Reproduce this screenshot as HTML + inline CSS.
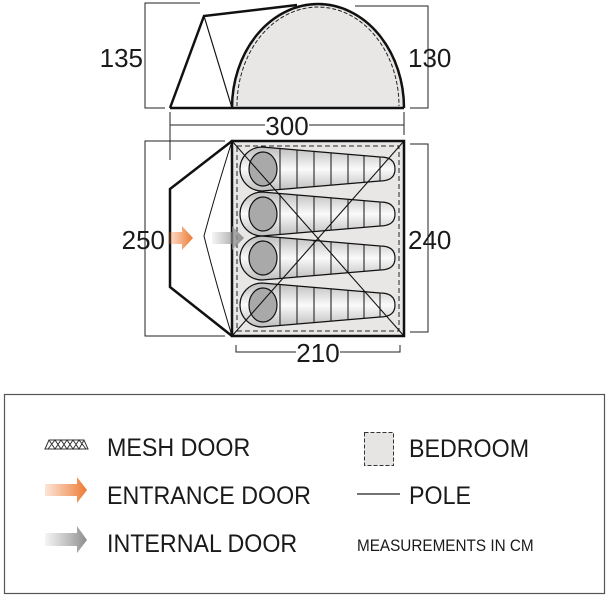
<!DOCTYPE html>
<html><head><style>
html,body{margin:0;padding:0;background:#fff;}
svg{display:block;}
text{font-family:"Liberation Sans",sans-serif;fill:#1a1a1a;}
</style></head><body>
<svg width="616" height="600" viewBox="0 0 616 600" xmlns="http://www.w3.org/2000/svg">
<defs>
<linearGradient id="bg" x1="0" y1="0" x2="0" y2="1">
<stop offset="0" stop-color="#bdbdbd"/><stop offset="0.5" stop-color="#fafafa"/><stop offset="1" stop-color="#bdbdbd"/>
</linearGradient>
<linearGradient id="og" x1="0" x2="1"><stop offset="0" stop-color="#f07f3a" stop-opacity="0.2"/><stop offset="1" stop-color="#ec7a33"/></linearGradient>
<linearGradient id="gg" x1="0" x2="1"><stop offset="0" stop-color="#999" stop-opacity="0.1"/><stop offset="1" stop-color="#8d8d8d"/></linearGradient>
<clipPath id="bc"><path d="M262,-22 L380,-12 Q395,-12 395,0 Q395,12 380,12 L262,22 A22,22 0 0 1 262,-22 Z"/></clipPath>
<g id="bag">
<path d="M262,-22 L380,-12 Q395,-12 395,0 Q395,12 380,12 L262,22 A22,22 0 0 1 262,-22 Z" fill="url(#bg)" stroke="#111" stroke-width="1.2"/>
<g clip-path="url(#bc)" stroke="#111" stroke-width="1">
<line x1="280" y1="-30" x2="280" y2="30"/><line x1="297" y1="-30" x2="297" y2="30"/><line x1="314" y1="-30" x2="314" y2="30"/><line x1="331" y1="-30" x2="331" y2="30"/><line x1="348" y1="-30" x2="348" y2="30"/><line x1="364" y1="-30" x2="364" y2="30"/><line x1="380" y1="-30" x2="380" y2="30"/>
</g>
<ellipse cx="263" cy="0" rx="14" ry="17" fill="#a9a9a9" stroke="#111" stroke-width="1.2"/>
</g>
</defs>

<g stroke="#222" stroke-width="1" fill="none">
<polyline points="200,3 145,3 145,108 165,108"/>
<polyline points="355,6 428,6 428,108 410,108"/>
<line x1="170" y1="112" x2="170" y2="160"/>
<line x1="404" y1="112" x2="404" y2="135"/>
<line x1="170" y1="125" x2="265" y2="125"/><line x1="309" y1="125" x2="404" y2="125"/>
</g>
<path d="M232,108 A86,104 0 0 1 404,108 Z" fill="#e9e7e6" stroke="none"/>
<path d="M237,106 A81,99 0 0 1 399,106" fill="none" stroke="#222" stroke-width="1" stroke-dasharray="4,2"/>
<path d="M232,108 A86,104 0 0 1 404,108" fill="none" stroke="#111" stroke-width="2.5"/>
<g stroke="#111" fill="none">
<polyline points="170,108 204,16 297,5" stroke-width="2.5"/>
<line x1="204" y1="16" x2="232" y2="108" stroke-width="1.2"/>
<line x1="170" y1="108" x2="404" y2="108" stroke-width="2.5"/>
</g>
<text x="143" y="67" font-size="26" text-anchor="end">135</text>
<text x="408" y="67" font-size="26">130</text>
<text x="287" y="135" font-size="26" text-anchor="middle">300</text>

<g stroke="#222" stroke-width="1" fill="none">
<polyline points="225,141 145,141 145,336 225,336"/>
<polyline points="410,144 428,144 428,332 410,332"/>
<polyline points="236,345 236,352 296,352"/><polyline points="340,352 400,352 400,345"/>
</g>
<rect x="232" y="141" width="172" height="195" fill="#e9e7e6"/>
<rect x="237" y="146" width="162" height="185" fill="none" stroke="#222" stroke-dasharray="5,3"/>
<use href="#bag" y="169"/><use href="#bag" y="214"/><use href="#bag" y="258"/><use href="#bag" y="305"/>
<g stroke="#111" stroke-width="1.1">
<line x1="232" y1="141" x2="404" y2="336"/><line x1="404" y1="141" x2="232" y2="336"/>
</g>
<rect x="232" y="141" width="172" height="195" fill="none" stroke="#111" stroke-width="2.5"/>
<polyline points="232,141 170,189 170,287 232,336" fill="none" stroke="#111" stroke-width="2.5"/>
<path d="M232,141 Q215,195 204,236 Q215,280 232,336" fill="none" stroke="#111" stroke-width="1"/>
<path d="M168,232 L182,232 L182,226 L193,238 L182,250 L182,244 L168,244 Z" fill="url(#og)"/>
<path d="M212,232 L232,232 L232,226 L244,238 L232,250 L232,244 L212,244 Z" fill="url(#gg)"/>
<text x="165" y="249" font-size="26" text-anchor="end">250</text>
<text x="408" y="249" font-size="26">240</text>
<text x="318" y="362" font-size="26" text-anchor="middle">210</text>

<rect x="4.5" y="394.5" width="600" height="199" fill="#fff" stroke="#555" stroke-width="1.2"/>
<g stroke="#333" stroke-width="1" fill="none">
<path d="M45,449 L49,440 L84,440 L88,449 Z"/>
<path d="M49,440 L55,449 L61,440 L67,449 L73,440 L79,449 L84,440 M48,449 L55,440 L61,449 L67,440 L73,449 L79,440 L86,449"/>
</g>
<path d="M45,484 L77,484 L77,477 L87,490 L77,503 L77,496 L45,496 Z" fill="url(#og)"/>
<path d="M45,533 L77,533 L77,526 L87,540 L77,553 L77,546 L45,546 Z" fill="url(#gg)"/>
<rect x="364.5" y="432.5" width="29" height="33" fill="#e7e5e4" stroke="#333" stroke-dasharray="4,2"/>
<line x1="357" y1="494" x2="400" y2="494" stroke="#222" stroke-width="1.2"/>
<g font-size="25">
<text x="107" y="456" transform="translate(107 0) scale(0.93 1) translate(-107 0)">MESH DOOR</text>
<text x="107" y="504" transform="translate(107 0) scale(0.93 1) translate(-107 0)">ENTRANCE DOOR</text>
<text x="107" y="552" transform="translate(107 0) scale(0.93 1) translate(-107 0)">INTERNAL DOOR</text>
<text x="409" y="457" transform="translate(409 0) scale(0.93 1) translate(-409 0)">BEDROOM</text>
<text x="409" y="504" transform="translate(409 0) scale(0.93 1) translate(-409 0)">POLE</text>
</g>
<text x="357" y="551" font-size="17" transform="translate(357 0) scale(0.9 1) translate(-357 0)">MEASUREMENTS IN CM</text>
</svg>
</body></html>
